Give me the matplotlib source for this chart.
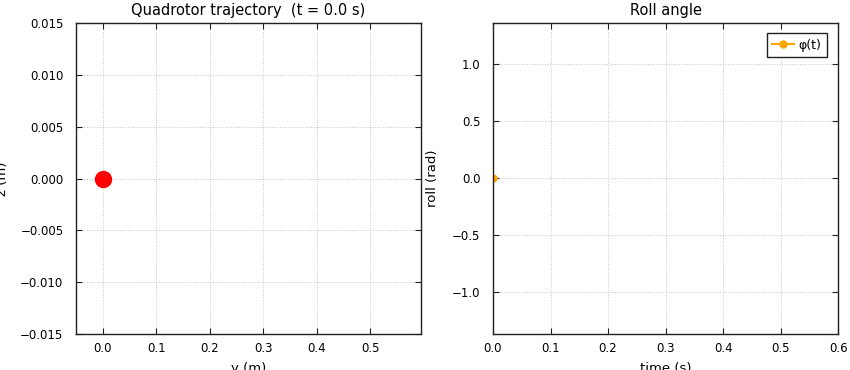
import numpy as np
import matplotlib.pyplot as plt

# current state (t = 0.0 s)
t_now = 0.0
y_pos = [0.0]
z_pos = [0.0]
t_hist = [0.0]
phi_hist = [0.0]

x_ticks_left = [0.0, 0.1, 0.2, 0.3, 0.4, 0.5]
y_ticks_left = [-0.015, -0.010, -0.005, 0.0, 0.005, 0.010, 0.015]
x_ticks_right = [0.0, 0.1, 0.2, 0.3, 0.4, 0.5, 0.6]
y_ticks_right = [-1.0, -0.5, 0.0, 0.5, 1.0]

plt.rcParams['font.family'] = ['DejaVu Sans']

fig = plt.figure(figsize=(8.5, 3.7), dpi=100)
ax1 = fig.add_axes([0.0894, 0.0973, 0.4059, 0.8405])
ax2 = fig.add_axes([0.58, 0.0973, 0.406, 0.8405])

def style(ax):
    ax.tick_params(direction='in', top=True, right=True, labelsize=8.5, length=4, color='#222222')
    ax.tick_params(axis='x', pad=6)
    ax.tick_params(axis='y', pad=9)
    ax.grid(True, linestyle=':', color='#c4c4c4', linewidth=0.7)
    for s in ax.spines.values():
        s.set_linewidth(1.0)
        s.set_color('#222222')

# trajectory
ax1.plot(y_pos, z_pos, 'o', color='red', markersize=11.5)
ax1.set_xlim(-0.05, 0.595)
ax1.set_ylim(-0.015, 0.015)
ax1.set_xticks(x_ticks_left)
ax1.set_yticks(y_ticks_left)
ax1.set_xticklabels([f'{v:.1f}' for v in x_ticks_left])
ax1.set_yticklabels([f'{v:.3f}'.replace('-', '\u2212') for v in y_ticks_left])
ax1.set_title(f'Quadrotor trajectory  (t = {t_now:.1f} s)', fontsize=10.5, pad=6)
ax1.set_xlabel('y (m)', fontsize=9.5, labelpad=5)
ax1.set_ylabel('z (m)', fontsize=9.5, labelpad=8)
style(ax1)

# roll angle
ax2.plot(t_hist, phi_hist, '-o', color='orange', markersize=5, linewidth=1.5, label='\u03c6(t)')
ax2.set_xlim(0.0, 0.6)
ax2.set_ylim(-1.37, 1.36)
ax2.set_xticks(x_ticks_right)
ax2.set_yticks(y_ticks_right)
ax2.set_xticklabels([f'{v:.1f}' for v in x_ticks_right])
ax2.set_yticklabels([f'{v:.1f}'.replace('-', '\u2212') for v in y_ticks_right])
ax2.set_title('Roll angle', fontsize=10.5, pad=6)
ax2.set_xlabel('time (s)', fontsize=9.5, labelpad=5)
ax2.set_ylabel('roll (rad)', fontsize=9.5, labelpad=9)
style(ax2)
leg = ax2.legend(loc='upper right', fontsize=9, fancybox=False, framealpha=1,
                 edgecolor='#222222', handlelength=1.7, borderpad=0.45,
                 handletextpad=0.4, borderaxespad=0,
                 bbox_to_anchor=(0.968, 0.968))
leg.get_frame().set_linewidth(1.0)

fig.savefig('out.png', dpi=100)
